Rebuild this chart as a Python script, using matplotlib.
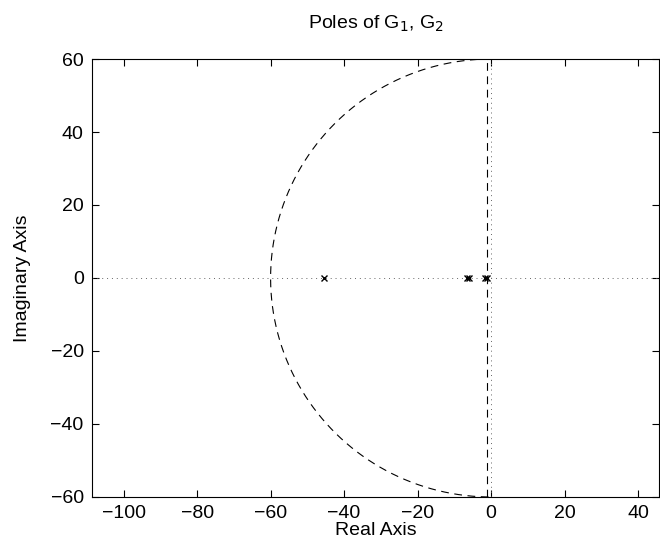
import numpy as np
import matplotlib
matplotlib.use("Agg")
import matplotlib.pyplot as plt

plt.rcParams["font.family"] = ["Liberation Sans", "DejaVu Sans"]

# pole locations (real parts, imaginary = 0)
pole_re = [-45.6, -6.6, -6.1, -1.7, -1.2]
pole_im = [0, 0, 0, 0, 0]

radius = 60          # dashed semicircle
damping_line = -1.0  # dashed vertical line
xlim = (-108.6, 45.7)
ylim = (-60, 60)
xticks = [-100, -80, -60, -40, -20, 0, 20, 40]
yticks = [-60, -40, -20, 0, 20, 40, 60]

fig = plt.figure(figsize=(6.6, 5.53), dpi=100)
ax = fig.add_axes([0.1394, 0.1013, 0.8591, 0.792])

th = np.linspace(np.pi / 2, 3 * np.pi / 2, 400)
ax.plot(radius * np.cos(th), radius * np.sin(th), "k--", lw=0.8, dashes=(7, 5))
ax.plot([damping_line, damping_line], ylim, "k--", lw=0.8, dashes=(7, 5))
ax.axhline(0, color="0.4", lw=0.7, dashes=(1, 4))
ax.axvline(0, color="0.4", lw=0.7, dashes=(1, 4))
ax.plot(pole_re, pole_im, "kx", ms=5, mew=1.0)

ax.set_xlim(*xlim)
ax.set_ylim(*ylim)
ax.set_xticks(xticks)
ax.set_yticks(yticks)
ax.tick_params(direction="in", length=5, top=True, right=True, labelsize=14, pad=6)
for s in ax.spines.values():
    s.set_linewidth(0.8)

ax.set_xlabel("Real Axis", fontsize=14, labelpad=0)
ax.set_ylabel("Imaginary Axis", fontsize=14, labelpad=14)
ax.set_title("Poles of G$_1$, G$_2$", fontsize=14, pad=22)

fig.savefig("out.png", dpi=100)
